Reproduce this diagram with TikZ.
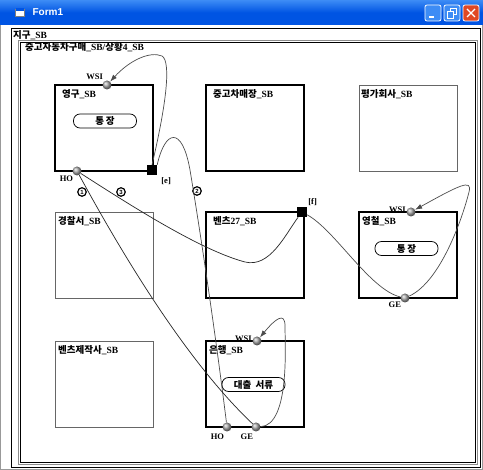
\documentclass[tikz,border=0pt]{standalone}
\usepackage{fontspec}
\setmainfont{Liberation Serif}
\newfontfamily\krfont{Noto Sans CJK KR}
\newfontfamily\uifont{Liberation Sans}
\usetikzlibrary{arrows.meta}
\newcommand\kr[1]{{\krfont\bfseries #1}}
\definecolor{xpblue}{RGB}{0,84,227}
\definecolor{xplight}{RGB}{61,140,245}
\definecolor{xpred}{RGB}{224,72,36}
\begin{document}
\begin{tikzpicture}[x=1pt,y=-1pt,
  frame/.style={draw, line width=0.8pt, anchor=north west, inner sep=0pt, outer sep=0pt},
  sbbox/.style={draw, line width=2pt, minimum width=98pt, minimum height=86pt,
    anchor=north west, inner sep=0pt, outer sep=0pt},
  thinbox/.style={sbbox, draw=black!60, line width=0.9pt},
  boxname/.style={anchor=north west, inner sep=0pt, font=\bfseries\fontsize{9.5}{10}\selectfont},
  pill/.style={draw, line width=0.7pt, rounded corners=6.5pt, minimum width=63pt,
    minimum height=14pt, inner sep=0pt, font=\bfseries\fontsize{9.5}{10}\selectfont},
  port/.style={circle, inner sep=0pt, minimum size=9pt, ball color=black!35},
  portname/.style={inner sep=0pt, font=\bfseries\fontsize{8.5}{9}\selectfont},
  joint/.style={fill=black, minimum size=10pt, inner sep=0pt},
  stepno/.style={circle, draw, line width=1.2pt, inner sep=0pt, minimum size=8.5pt,
    font=\uifont\bfseries\fontsize{6}{6}\selectfont},
  wire/.style={draw=black!70, line width=0.7pt},
  arr/.style={-{Latex[length=7pt,width=5pt]}},
  winbtn/.style={draw=white, line width=0.8pt, rounded corners=2pt, minimum size=16pt, inner sep=0pt}]
\useasboundingbox (0,0) rectangle (483,470);

% window body and title bar
\fill[white] (0,0) rectangle (483,470);
\fill[top color=xplight, bottom color=xpblue, middle color=xpblue] (0,0) rectangle (483,25);
\draw[black!40, line width=1pt] (0.5,25) -- (0.5,469.5) -- (482.5,469.5) -- (482.5,25);
\node[fill=white, draw=black!50, minimum width=9pt, minimum height=7pt, inner sep=0pt] (appicon) at (20,13) {};
\fill[xpblue] ([shift={(1,-1)}]appicon.north west) rectangle ([shift={(-1,1.5)}]appicon.north east);
\node[anchor=west, text=white, font=\uifont\bfseries\fontsize{10}{12}\selectfont] (title) at (29,12.5) {Form1};
\node[winbtn, fill=xplight] (btnmin) at (433,13) {};
\node[winbtn, fill=xplight] (btnmax) at (452,13) {};
\node[winbtn, fill=xpred] (btnclose) at (471,13) {};
\fill[white] ([shift={(-4,3)}]btnmin.center) rectangle ([shift={(1,5)}]btnmin.center);
\draw[white, line width=0.9pt] ([shift={(-2,-5)}]btnmax.center) rectangle ([shift={(4,1)}]btnmax.center);
\draw[white, line width=0.9pt, fill=xplight] ([shift={(-5,-2)}]btnmax.center) rectangle ([shift={(1,5)}]btnmax.center);
\draw[white, line width=1.4pt] ([shift={(-4,-4)}]btnclose.center) -- ([shift={(4,4)}]btnclose.center)
  ([shift={(-4,4)}]btnclose.center) -- ([shift={(4,-4)}]btnclose.center);

% nested frames
\node[frame, minimum width=469pt, minimum height=439pt] (earth) at (11,28) {};
\node[boxname] (earthname) at (13,30) {\kr{지구}\_SB};
\node[frame, draw=black!45, minimum width=459pt, minimum height=424pt] (sceneouter) at (18,40) {};
\node[frame, minimum width=455pt, minimum height=420pt] (scene) at (20,42) {};
\node[boxname] (scenename) at (25,42.5) {\kr{중고자동차구매}\_SB/\kr{상황}4\_SB};

% agents
\node[sbbox] (yg) at (55,85) {};
\node[boxname] (ygname) at ([shift={(7,4)}]yg.north west) {\kr{영구}\_SB};
\node[pill] (ygbook) at (105,121) {\kr{통\,장}};

\node[sbbox] (jm) at (206,85) {};
\node[boxname] (jmname) at ([shift={(7,4)}]jm.north west) {\kr{중고차매장}\_SB};

\node[thinbox] (pg) at (359,85) {};
\node[boxname] (pgname) at ([shift={(2,4)}]pg.north west) {\kr{평가회사}\_SB};

\node[thinbox] (gc) at (55,212) {};
\node[boxname] (gcname) at ([shift={(3,4)}]gc.north west) {\kr{경찰서}\_SB};

\node[sbbox] (bz) at (206,212) {};
\node[boxname] (bzname) at ([shift={(7,4)}]bz.north west) {\kr{벤츠}27\_SB};

\node[sbbox] (yc) at (359,212) {};
\node[boxname] (ycname) at ([shift={(3,4)}]yc.north west) {\kr{영철}\_SB};
\node[pill] (ycbook) at (406.5,248.5) {\kr{통\,장}};

\node[thinbox] (bj) at (55,341) {};
\node[boxname] (bjname) at ([shift={(3,4)}]bj.north west) {\kr{벤츠제작사}\_SB};

\node[sbbox] (eh) at (206,341) {};
\node[boxname] (ehname) at ([shift={(3,4)}]eh.north west) {\kr{은행}\_SB};
\node[pill] (ehdoc) at (253.5,384.5) {\kr{대출 \ 서류}};

% ports
\node[port] (ygwsi) at (107,85) {};
\node[portname, anchor=south east] at ([shift={(-0.5,-1.5)}]ygwsi.north west) {WSI};
\node[port] (ygho) at (77,171) {};
\node[portname, anchor=north east] at ([shift={(-0.5,1.5)}]ygho.south west) {HO};
\node[joint] (sqe) at (152,170) {};
\node[portname, anchor=north west] at ([shift={(4,2)}]sqe.south east) {[e]};

\node[joint] (sqf) at (302,212) {};
\node[portname, anchor=south west] at ([shift={(1,-0.5)}]sqf.north east) {[f]};

\node[port] (ycwsi) at (411,212) {};
\node[portname, anchor=south east] at ([shift={(-0.5,0.5)}]ycwsi.west) {WSI};
\node[port] (ycge) at (405,298) {};
\node[portname, anchor=north east] at ([shift={(-0.5,0.5)}]ycge.south west) {GE};

\node[port] (ehwsi) at (257,341) {};
\node[portname, anchor=south east] at ([shift={(-0.5,0.5)}]ehwsi.west) {WSI};
\node[port] (ehho) at (227,427) {};
\node[portname, anchor=north east] at ([shift={(0.5,3)}]ehho.south west) {HO};
\node[port] (ehge) at (256,427) {};
\node[portname, anchor=north east] at ([shift={(0.5,3)}]ehge.south west) {GE};

% step numbers
\node[stepno] (s1) at (82,192) {1};
\node[stepno] (s3) at (121,192) {3};
\node[stepno] (s2) at (197,191) {2};

% messages
\draw[wire, arr] (sqe.north) .. controls (165,110) and (172,62) .. (162,56)
  .. controls (150,51) and (130,60) .. (ygwsi);
\draw[wire] (sqe.north east) .. controls (165,130) and (182,125) .. (190,170)
  .. controls (200,230) and (215,330) .. (ehho);
\draw[wire, draw=black!85] (ygho) .. controls (120,250) and (185,360) .. (ehge);
\draw[wire, draw=black!85] (ygho) .. controls (130,205) and (200,250) .. (245,262)
  .. controls (270,268) and (285,235) .. (sqf);
\draw[wire] (sqf) .. controls (335,230) and (370,290) .. (ycge);
\draw[wire, arr] (ycge) .. controls (440,282) and (462,220) .. (469,192)
  .. controls (473,178) and (458,186) .. (ycwsi);
\draw[wire, arr] (ehge) .. controls (290,425) and (285,345) .. (285,326)
  .. controls (285,312) and (276,318) .. (ehwsi);
\end{tikzpicture}
\end{document}
